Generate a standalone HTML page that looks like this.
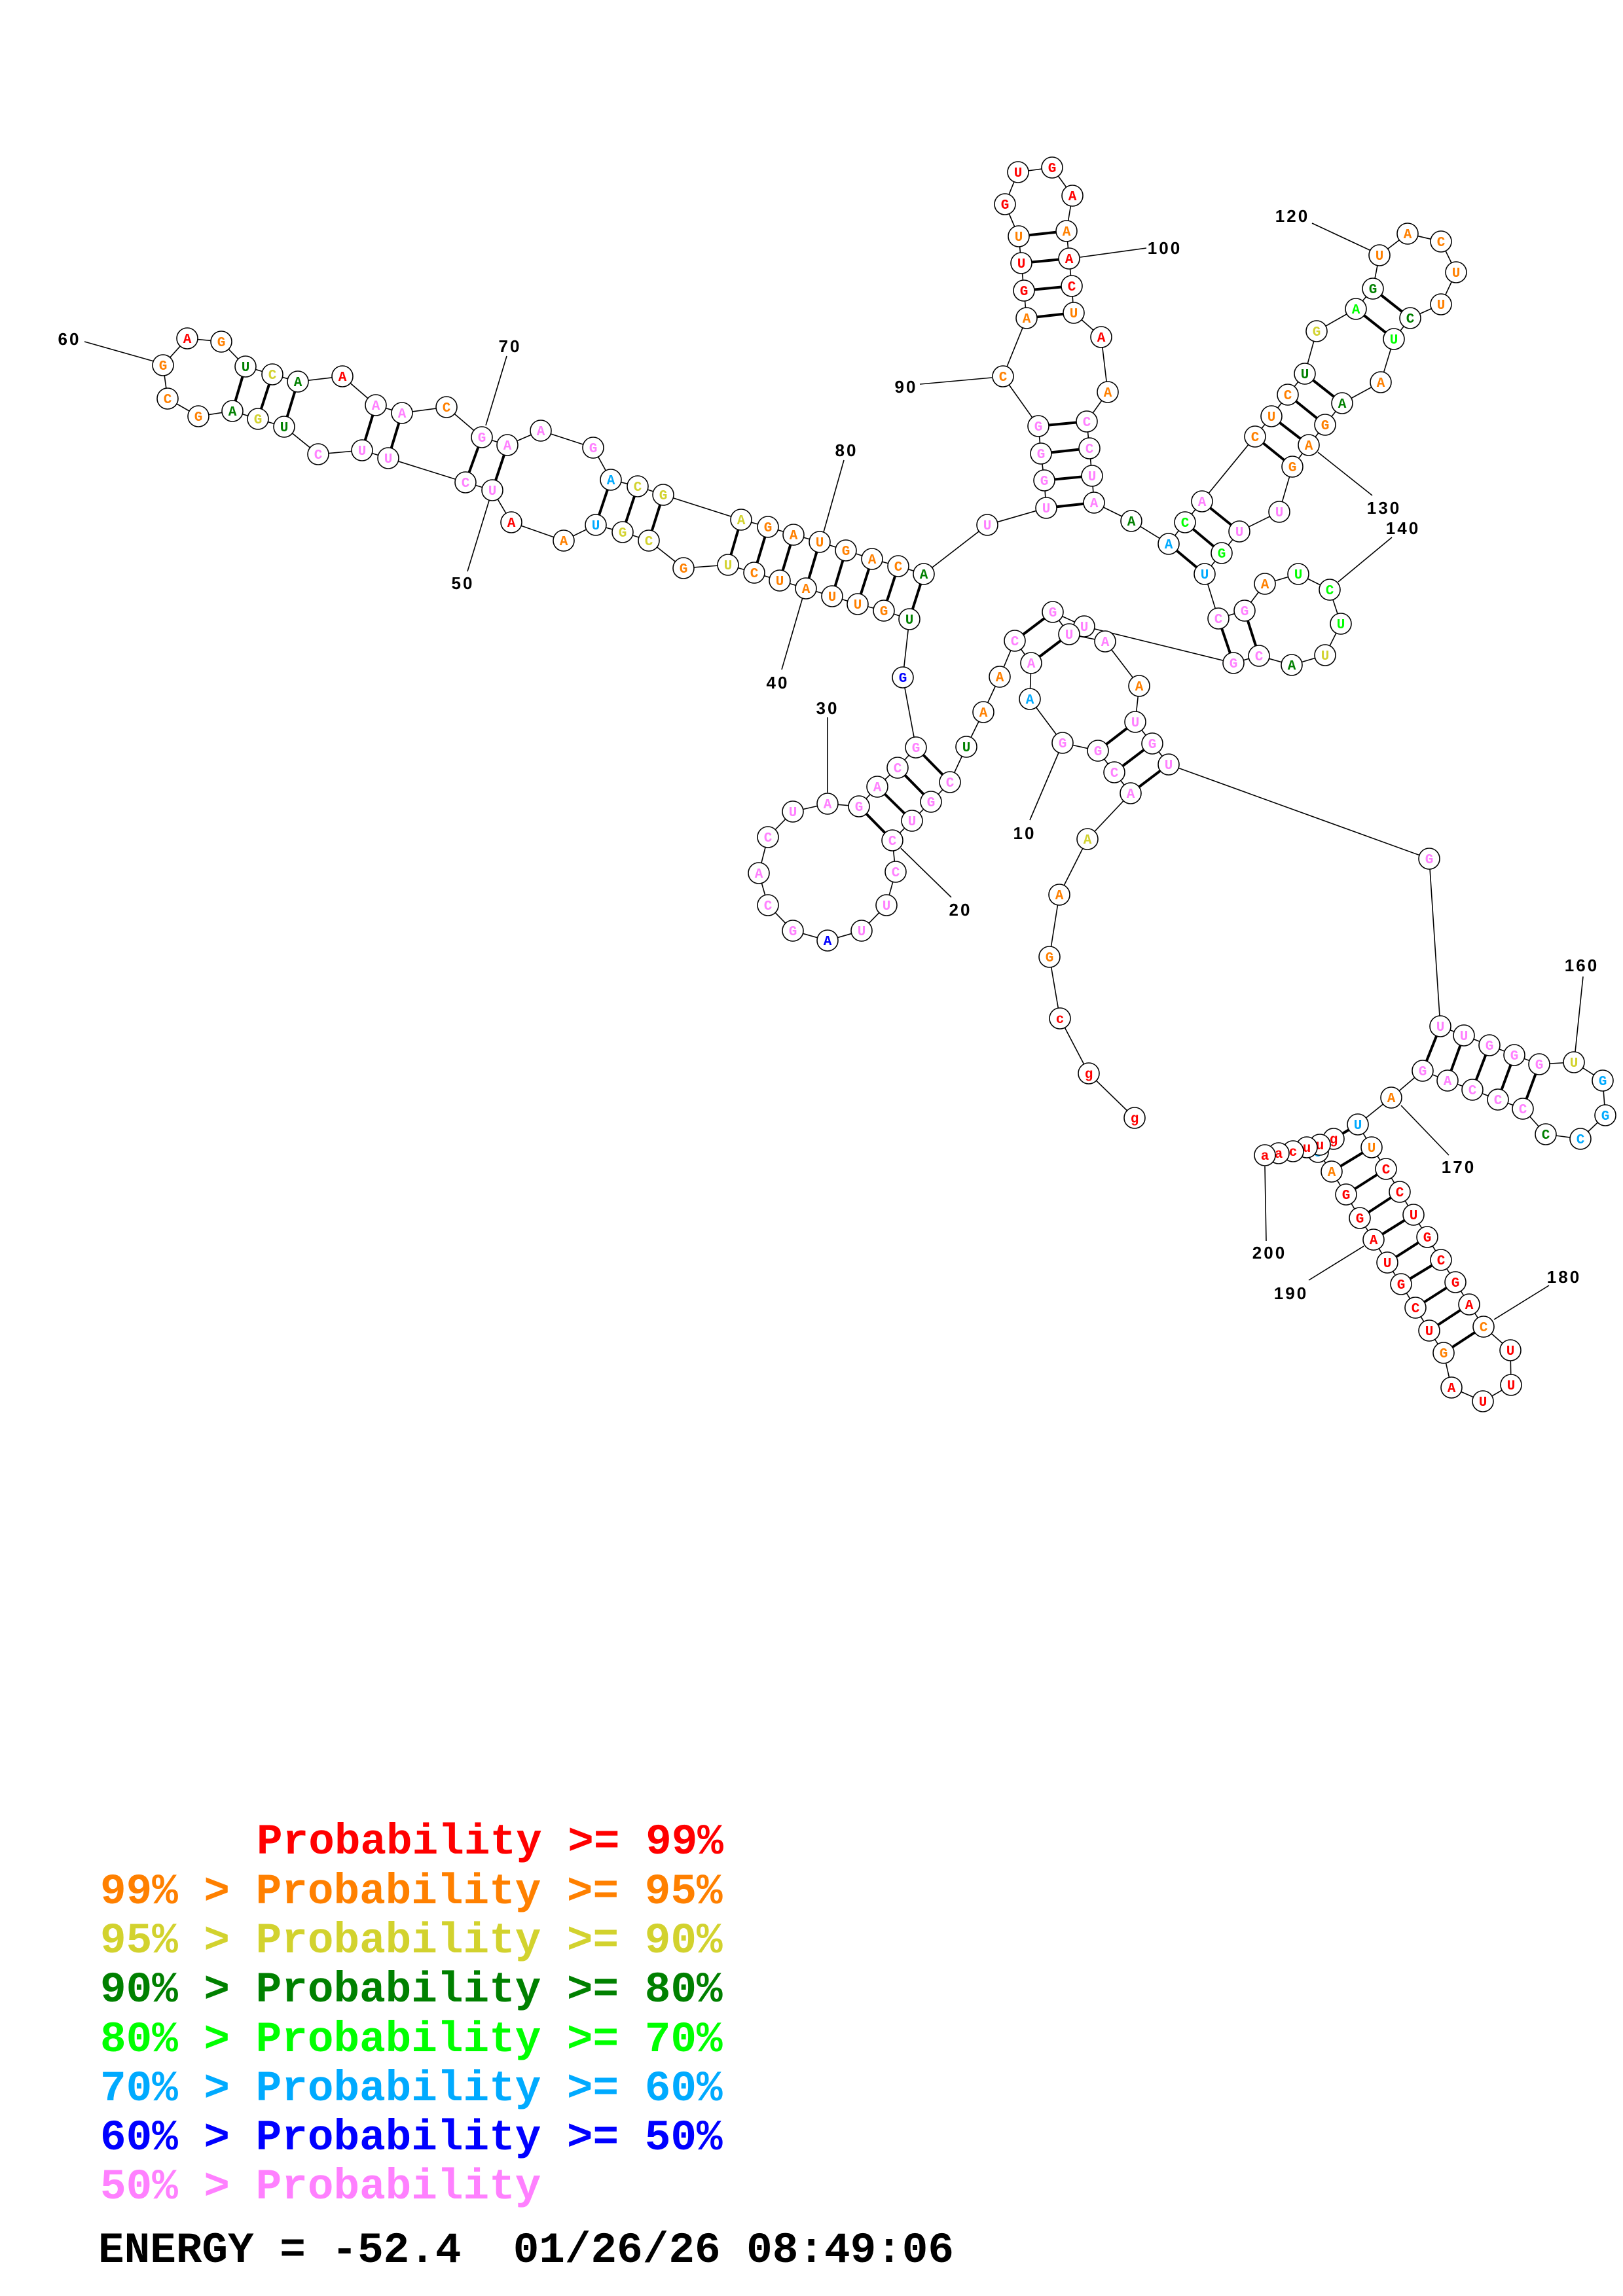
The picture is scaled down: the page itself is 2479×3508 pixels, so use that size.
<!DOCTYPE html>
<html><head><meta charset="utf-8"><style>
html,body{margin:0;padding:0;background:#fff}
svg{display:block}
.n{font:bold 21px "Liberation Mono",monospace;text-anchor:middle}
.lb{font:bold 26px "Liberation Sans",sans-serif;letter-spacing:3px;text-anchor:middle;fill:#000}
.lg{font:bold 66px "Liberation Mono",monospace;white-space:pre}
.r{fill:#ff0000}.o{fill:#ff8000}.y{fill:#d2d22e}.d{fill:#008000}.l{fill:#00ff00}.c{fill:#00aaff}.b{fill:#0000ff}.p{fill:#ff80ff}.k{fill:#000}
circle{fill:#fff;stroke:#000;stroke-width:1.6}
</style></head><body>
<svg width="2479" height="3508" viewBox="0 0 2479 3508" xmlns="http://www.w3.org/2000/svg">
<g stroke="#000" stroke-width="1.6" fill="none">
<polyline points="1733,1708 1663,1640 1619,1556 1603,1462 1618,1367 1661,1282 1727,1212 1702,1180 1677,1147 1623,1135 1573,1068 1575,1013 1550,979 1527,1034 1502,1088 1476,1141 1451,1195 1422,1225 1393,1254 1363,1284 1368,1332 1354,1383 1316,1422 1264,1437 1211,1422 1173,1383 1159,1334 1173,1279 1211,1240 1264,1228 1312,1232 1340,1202 1371,1173 1399,1142 1379,1035 1389,946 1350,933 1310,923 1271,911 1231,899 1191,887 1152,875 1112,863 1044,868 991,826 951,813 910,802 861,826 781,798 752,749 711,737 593,700 553,688 486,694 434,652 394,640 355,628 303,636 256,609 249,558 286,517 338,522 375,560 416,572 455,583 523,575 574,619 614,631 682,622 736,668 775,680 826,658 906,684 933,733 974,743 1013,756 1132,794 1173,805 1212,817 1252,828 1292,841 1332,854 1372,865 1411,877 1508,802 1598,776 1595,734 1590,693 1586,651 1532,575 1568,486 1564,444 1560,402 1556,361 1535,312 1555,263 1607,256 1638,299 1629,353 1633,395 1637,437 1640,478 1682,515 1692,599 1660,644 1664,685 1668,727 1671,768 1728,796 1785,831 1810,798 1836,766 1917,667 1942,636 1967,603 1993,571 2011,506 2071,472 2097,441 2107,390 2150,357 2201,369 2224,416 2201,465 2154,486 2129,518 2109,584 2050,616 2024,649 1999,680 1974,713 1954,782 1893,812 1866,845 1840,877 1861,945 1901,933 1932,892 1983,877 2031,901 2048,953 2024,1001 1973,1016 1923,1002 1884,1013 1656,957 1608,935 1633,969 1688,980 1740,1048 1734,1103 1760,1136 1785,1168 2183,1312 2200,1568 2236,1582 2275,1597 2313,1612 2351,1626 2404,1623 2448,1651 2452,1704 2414,1740 2361,1733 2326,1694 2288,1680 2249,1665 2211,1651 2173,1636 2125,1677 2074,1718 2095,1753 2117,1786 2138,1821 2159,1856 2180,1890 2201,1925 2223,1959 2244,1993 2266,2027 2307,2063 2308,2116 2265,2141 2217,2120 2205,2067 2183,2033 2162,1998 2140,1962 2119,1929 2098,1894 2077,1861 2056,1825 2034,1790 2013,1760 2037,1740 2016,1749 1996,1753 1975,1759 1953,1762 1932,1765"/>
<path d="M1573,1253L1617,1150 M1453,1371L1376,1296 M1264,1096L1264,1211 M1194,1023L1226,913 M714,873L747,765 M129,522L235,552 M774,544L742,650 M1289,703L1258,813 M1405,587L1515,577 M1751,379L1650,393 M2004,341L2094,383 M2096,757L2013,691 M2126,821L2044,889 M2418,1492L2406,1607 M2213,1765L2140,1689 M2366,1964L2282,2016 M1999,1956L2083,1904 M1934,1896L1932,1782"/>
</g>
<path stroke="#000" stroke-width="4" fill="none" d="M1677,1147L1734,1103 M1702,1180L1760,1136 M1727,1212L1785,1168 M1575,1013L1633,969 M1550,979L1608,935 M1451,1195L1399,1142 M1422,1225L1371,1173 M1393,1254L1340,1202 M1363,1284L1312,1232 M1389,946L1411,877 M1350,933L1372,865 M1310,923L1332,854 M1271,911L1292,841 M1231,899L1252,828 M1191,887L1212,817 M1152,875L1173,805 M1112,863L1132,794 M991,826L1013,756 M951,813L974,743 M910,802L933,733 M752,749L775,680 M711,737L736,668 M593,700L614,631 M553,688L574,619 M434,652L455,583 M394,640L416,572 M355,628L375,560 M1598,776L1671,768 M1595,734L1668,727 M1590,693L1664,685 M1586,651L1660,644 M1568,486L1640,478 M1564,444L1637,437 M1560,402L1633,395 M1556,361L1629,353 M1785,831L1840,877 M1810,798L1866,845 M1836,766L1893,812 M1917,667L1974,713 M1942,636L1999,680 M1967,603L2024,649 M1993,571L2050,616 M2071,472L2129,518 M2097,441L2154,486 M1861,945L1884,1013 M1901,933L1923,1002 M2200,1568L2173,1636 M2236,1582L2211,1651 M2275,1597L2249,1665 M2313,1612L2288,1680 M2351,1626L2326,1694 M2074,1718L2037,1740 M2095,1753L2034,1790 M2117,1786L2056,1825 M2138,1821L2077,1861 M2159,1856L2098,1894 M2180,1890L2119,1929 M2201,1925L2140,1962 M2223,1959L2162,1998 M2244,1993L2183,2033 M2266,2027L2205,2067"/>
<g>
<circle cx="1733" cy="1708" r="16"/><text class="n r" x="1733" y="1715">g</text>
<circle cx="1663" cy="1640" r="16"/><text class="n r" x="1663" y="1647">g</text>
<circle cx="1619" cy="1556" r="16"/><text class="n r" x="1619" y="1563">c</text>
<circle cx="1603" cy="1462" r="16"/><text class="n o" x="1603" y="1469">G</text>
<circle cx="1618" cy="1367" r="16"/><text class="n o" x="1618" y="1374">A</text>
<circle cx="1661" cy="1282" r="16"/><text class="n y" x="1661" y="1289">A</text>
<circle cx="1727" cy="1212" r="16"/><text class="n p" x="1727" y="1219">A</text>
<circle cx="1702" cy="1180" r="16"/><text class="n p" x="1702" y="1187">C</text>
<circle cx="1677" cy="1147" r="16"/><text class="n p" x="1677" y="1154">G</text>
<circle cx="1623" cy="1135" r="16"/><text class="n p" x="1623" y="1142">G</text>
<circle cx="1573" cy="1068" r="16"/><text class="n c" x="1573" y="1075">A</text>
<circle cx="1575" cy="1013" r="16"/><text class="n p" x="1575" y="1020">A</text>
<circle cx="1550" cy="979" r="16"/><text class="n p" x="1550" y="986">C</text>
<circle cx="1527" cy="1034" r="16"/><text class="n o" x="1527" y="1041">A</text>
<circle cx="1502" cy="1088" r="16"/><text class="n o" x="1502" y="1095">A</text>
<circle cx="1476" cy="1141" r="16"/><text class="n d" x="1476" y="1148">U</text>
<circle cx="1451" cy="1195" r="16"/><text class="n p" x="1451" y="1202">C</text>
<circle cx="1422" cy="1225" r="16"/><text class="n p" x="1422" y="1232">G</text>
<circle cx="1393" cy="1254" r="16"/><text class="n p" x="1393" y="1261">U</text>
<circle cx="1363" cy="1284" r="16"/><text class="n p" x="1363" y="1291">C</text>
<circle cx="1368" cy="1332" r="16"/><text class="n p" x="1368" y="1339">C</text>
<circle cx="1354" cy="1383" r="16"/><text class="n p" x="1354" y="1390">U</text>
<circle cx="1316" cy="1422" r="16"/><text class="n p" x="1316" y="1429">U</text>
<circle cx="1264" cy="1437" r="16"/><text class="n b" x="1264" y="1444">A</text>
<circle cx="1211" cy="1422" r="16"/><text class="n p" x="1211" y="1429">G</text>
<circle cx="1173" cy="1383" r="16"/><text class="n p" x="1173" y="1390">C</text>
<circle cx="1159" cy="1334" r="16"/><text class="n p" x="1159" y="1341">A</text>
<circle cx="1173" cy="1279" r="16"/><text class="n p" x="1173" y="1286">C</text>
<circle cx="1211" cy="1240" r="16"/><text class="n p" x="1211" y="1247">U</text>
<circle cx="1264" cy="1228" r="16"/><text class="n p" x="1264" y="1235">A</text>
<circle cx="1312" cy="1232" r="16"/><text class="n p" x="1312" y="1239">G</text>
<circle cx="1340" cy="1202" r="16"/><text class="n p" x="1340" y="1209">A</text>
<circle cx="1371" cy="1173" r="16"/><text class="n p" x="1371" y="1180">C</text>
<circle cx="1399" cy="1142" r="16"/><text class="n p" x="1399" y="1149">G</text>
<circle cx="1379" cy="1035" r="16"/><text class="n b" x="1379" y="1042">G</text>
<circle cx="1389" cy="946" r="16"/><text class="n d" x="1389" y="953">U</text>
<circle cx="1350" cy="933" r="16"/><text class="n o" x="1350" y="940">G</text>
<circle cx="1310" cy="923" r="16"/><text class="n o" x="1310" y="930">U</text>
<circle cx="1271" cy="911" r="16"/><text class="n o" x="1271" y="918">U</text>
<circle cx="1231" cy="899" r="16"/><text class="n o" x="1231" y="906">A</text>
<circle cx="1191" cy="887" r="16"/><text class="n o" x="1191" y="894">U</text>
<circle cx="1152" cy="875" r="16"/><text class="n o" x="1152" y="882">C</text>
<circle cx="1112" cy="863" r="16"/><text class="n y" x="1112" y="870">U</text>
<circle cx="1044" cy="868" r="16"/><text class="n o" x="1044" y="875">G</text>
<circle cx="991" cy="826" r="16"/><text class="n y" x="991" y="833">C</text>
<circle cx="951" cy="813" r="16"/><text class="n y" x="951" y="820">G</text>
<circle cx="910" cy="802" r="16"/><text class="n c" x="910" y="809">U</text>
<circle cx="861" cy="826" r="16"/><text class="n o" x="861" y="833">A</text>
<circle cx="781" cy="798" r="16"/><text class="n r" x="781" y="805">A</text>
<circle cx="752" cy="749" r="16"/><text class="n p" x="752" y="756">U</text>
<circle cx="711" cy="737" r="16"/><text class="n p" x="711" y="744">C</text>
<circle cx="593" cy="700" r="16"/><text class="n p" x="593" y="707">U</text>
<circle cx="553" cy="688" r="16"/><text class="n p" x="553" y="695">U</text>
<circle cx="486" cy="694" r="16"/><text class="n p" x="486" y="701">C</text>
<circle cx="434" cy="652" r="16"/><text class="n d" x="434" y="659">U</text>
<circle cx="394" cy="640" r="16"/><text class="n y" x="394" y="647">G</text>
<circle cx="355" cy="628" r="16"/><text class="n d" x="355" y="635">A</text>
<circle cx="303" cy="636" r="16"/><text class="n o" x="303" y="643">G</text>
<circle cx="256" cy="609" r="16"/><text class="n o" x="256" y="616">C</text>
<circle cx="249" cy="558" r="16"/><text class="n o" x="249" y="565">G</text>
<circle cx="286" cy="517" r="16"/><text class="n r" x="286" y="524">A</text>
<circle cx="338" cy="522" r="16"/><text class="n o" x="338" y="529">G</text>
<circle cx="375" cy="560" r="16"/><text class="n d" x="375" y="567">U</text>
<circle cx="416" cy="572" r="16"/><text class="n y" x="416" y="579">C</text>
<circle cx="455" cy="583" r="16"/><text class="n d" x="455" y="590">A</text>
<circle cx="523" cy="575" r="16"/><text class="n r" x="523" y="582">A</text>
<circle cx="574" cy="619" r="16"/><text class="n p" x="574" y="626">A</text>
<circle cx="614" cy="631" r="16"/><text class="n p" x="614" y="638">A</text>
<circle cx="682" cy="622" r="16"/><text class="n o" x="682" y="629">C</text>
<circle cx="736" cy="668" r="16"/><text class="n p" x="736" y="675">G</text>
<circle cx="775" cy="680" r="16"/><text class="n p" x="775" y="687">A</text>
<circle cx="826" cy="658" r="16"/><text class="n p" x="826" y="665">A</text>
<circle cx="906" cy="684" r="16"/><text class="n p" x="906" y="691">G</text>
<circle cx="933" cy="733" r="16"/><text class="n c" x="933" y="740">A</text>
<circle cx="974" cy="743" r="16"/><text class="n y" x="974" y="750">C</text>
<circle cx="1013" cy="756" r="16"/><text class="n y" x="1013" y="763">G</text>
<circle cx="1132" cy="794" r="16"/><text class="n y" x="1132" y="801">A</text>
<circle cx="1173" cy="805" r="16"/><text class="n o" x="1173" y="812">G</text>
<circle cx="1212" cy="817" r="16"/><text class="n o" x="1212" y="824">A</text>
<circle cx="1252" cy="828" r="16"/><text class="n o" x="1252" y="835">U</text>
<circle cx="1292" cy="841" r="16"/><text class="n o" x="1292" y="848">G</text>
<circle cx="1332" cy="854" r="16"/><text class="n o" x="1332" y="861">A</text>
<circle cx="1372" cy="865" r="16"/><text class="n o" x="1372" y="872">C</text>
<circle cx="1411" cy="877" r="16"/><text class="n d" x="1411" y="884">A</text>
<circle cx="1508" cy="802" r="16"/><text class="n p" x="1508" y="809">U</text>
<circle cx="1598" cy="776" r="16"/><text class="n p" x="1598" y="783">U</text>
<circle cx="1595" cy="734" r="16"/><text class="n p" x="1595" y="741">G</text>
<circle cx="1590" cy="693" r="16"/><text class="n p" x="1590" y="700">G</text>
<circle cx="1586" cy="651" r="16"/><text class="n p" x="1586" y="658">G</text>
<circle cx="1532" cy="575" r="16"/><text class="n o" x="1532" y="582">C</text>
<circle cx="1568" cy="486" r="16"/><text class="n o" x="1568" y="493">A</text>
<circle cx="1564" cy="444" r="16"/><text class="n r" x="1564" y="451">G</text>
<circle cx="1560" cy="402" r="16"/><text class="n r" x="1560" y="409">U</text>
<circle cx="1556" cy="361" r="16"/><text class="n o" x="1556" y="368">U</text>
<circle cx="1535" cy="312" r="16"/><text class="n r" x="1535" y="319">G</text>
<circle cx="1555" cy="263" r="16"/><text class="n r" x="1555" y="270">U</text>
<circle cx="1607" cy="256" r="16"/><text class="n r" x="1607" y="263">G</text>
<circle cx="1638" cy="299" r="16"/><text class="n r" x="1638" y="306">A</text>
<circle cx="1629" cy="353" r="16"/><text class="n o" x="1629" y="360">A</text>
<circle cx="1633" cy="395" r="16"/><text class="n r" x="1633" y="402">A</text>
<circle cx="1637" cy="437" r="16"/><text class="n r" x="1637" y="444">C</text>
<circle cx="1640" cy="478" r="16"/><text class="n o" x="1640" y="485">U</text>
<circle cx="1682" cy="515" r="16"/><text class="n r" x="1682" y="522">A</text>
<circle cx="1692" cy="599" r="16"/><text class="n o" x="1692" y="606">A</text>
<circle cx="1660" cy="644" r="16"/><text class="n p" x="1660" y="651">C</text>
<circle cx="1664" cy="685" r="16"/><text class="n p" x="1664" y="692">C</text>
<circle cx="1668" cy="727" r="16"/><text class="n p" x="1668" y="734">U</text>
<circle cx="1671" cy="768" r="16"/><text class="n p" x="1671" y="775">A</text>
<circle cx="1728" cy="796" r="16"/><text class="n d" x="1728" y="803">A</text>
<circle cx="1785" cy="831" r="16"/><text class="n c" x="1785" y="838">A</text>
<circle cx="1810" cy="798" r="16"/><text class="n l" x="1810" y="805">C</text>
<circle cx="1836" cy="766" r="16"/><text class="n p" x="1836" y="773">A</text>
<circle cx="1917" cy="667" r="16"/><text class="n o" x="1917" y="674">C</text>
<circle cx="1942" cy="636" r="16"/><text class="n o" x="1942" y="643">U</text>
<circle cx="1967" cy="603" r="16"/><text class="n o" x="1967" y="610">C</text>
<circle cx="1993" cy="571" r="16"/><text class="n d" x="1993" y="578">U</text>
<circle cx="2011" cy="506" r="16"/><text class="n y" x="2011" y="513">G</text>
<circle cx="2071" cy="472" r="16"/><text class="n l" x="2071" y="479">A</text>
<circle cx="2097" cy="441" r="16"/><text class="n d" x="2097" y="448">G</text>
<circle cx="2107" cy="390" r="16"/><text class="n o" x="2107" y="397">U</text>
<circle cx="2150" cy="357" r="16"/><text class="n o" x="2150" y="364">A</text>
<circle cx="2201" cy="369" r="16"/><text class="n o" x="2201" y="376">C</text>
<circle cx="2224" cy="416" r="16"/><text class="n o" x="2224" y="423">U</text>
<circle cx="2201" cy="465" r="16"/><text class="n o" x="2201" y="472">U</text>
<circle cx="2154" cy="486" r="16"/><text class="n d" x="2154" y="493">C</text>
<circle cx="2129" cy="518" r="16"/><text class="n l" x="2129" y="525">U</text>
<circle cx="2109" cy="584" r="16"/><text class="n o" x="2109" y="591">A</text>
<circle cx="2050" cy="616" r="16"/><text class="n d" x="2050" y="623">A</text>
<circle cx="2024" cy="649" r="16"/><text class="n o" x="2024" y="656">G</text>
<circle cx="1999" cy="680" r="16"/><text class="n o" x="1999" y="687">A</text>
<circle cx="1974" cy="713" r="16"/><text class="n o" x="1974" y="720">G</text>
<circle cx="1954" cy="782" r="16"/><text class="n p" x="1954" y="789">U</text>
<circle cx="1893" cy="812" r="16"/><text class="n p" x="1893" y="819">U</text>
<circle cx="1866" cy="845" r="16"/><text class="n l" x="1866" y="852">G</text>
<circle cx="1840" cy="877" r="16"/><text class="n c" x="1840" y="884">U</text>
<circle cx="1861" cy="945" r="16"/><text class="n p" x="1861" y="952">C</text>
<circle cx="1901" cy="933" r="16"/><text class="n p" x="1901" y="940">G</text>
<circle cx="1932" cy="892" r="16"/><text class="n o" x="1932" y="899">A</text>
<circle cx="1983" cy="877" r="16"/><text class="n l" x="1983" y="884">U</text>
<circle cx="2031" cy="901" r="16"/><text class="n l" x="2031" y="908">C</text>
<circle cx="2048" cy="953" r="16"/><text class="n l" x="2048" y="960">U</text>
<circle cx="2024" cy="1001" r="16"/><text class="n y" x="2024" y="1008">U</text>
<circle cx="1973" cy="1016" r="16"/><text class="n d" x="1973" y="1023">A</text>
<circle cx="1923" cy="1002" r="16"/><text class="n p" x="1923" y="1009">C</text>
<circle cx="1884" cy="1013" r="16"/><text class="n p" x="1884" y="1020">G</text>
<circle cx="1656" cy="957" r="16"/><text class="n p" x="1656" y="964">U</text>
<circle cx="1608" cy="935" r="16"/><text class="n p" x="1608" y="942">G</text>
<circle cx="1633" cy="969" r="16"/><text class="n p" x="1633" y="976">U</text>
<circle cx="1688" cy="980" r="16"/><text class="n p" x="1688" y="987">A</text>
<circle cx="1740" cy="1048" r="16"/><text class="n o" x="1740" y="1055">A</text>
<circle cx="1734" cy="1103" r="16"/><text class="n p" x="1734" y="1110">U</text>
<circle cx="1760" cy="1136" r="16"/><text class="n p" x="1760" y="1143">G</text>
<circle cx="1785" cy="1168" r="16"/><text class="n p" x="1785" y="1175">U</text>
<circle cx="2183" cy="1312" r="16"/><text class="n p" x="2183" y="1319">G</text>
<circle cx="2200" cy="1568" r="16"/><text class="n p" x="2200" y="1575">U</text>
<circle cx="2236" cy="1582" r="16"/><text class="n p" x="2236" y="1589">U</text>
<circle cx="2275" cy="1597" r="16"/><text class="n p" x="2275" y="1604">G</text>
<circle cx="2313" cy="1612" r="16"/><text class="n p" x="2313" y="1619">G</text>
<circle cx="2351" cy="1626" r="16"/><text class="n p" x="2351" y="1633">G</text>
<circle cx="2404" cy="1623" r="16"/><text class="n y" x="2404" y="1630">U</text>
<circle cx="2448" cy="1651" r="16"/><text class="n c" x="2448" y="1658">G</text>
<circle cx="2452" cy="1704" r="16"/><text class="n c" x="2452" y="1711">G</text>
<circle cx="2414" cy="1740" r="16"/><text class="n c" x="2414" y="1747">C</text>
<circle cx="2361" cy="1733" r="16"/><text class="n d" x="2361" y="1740">C</text>
<circle cx="2326" cy="1694" r="16"/><text class="n p" x="2326" y="1701">C</text>
<circle cx="2288" cy="1680" r="16"/><text class="n p" x="2288" y="1687">C</text>
<circle cx="2249" cy="1665" r="16"/><text class="n p" x="2249" y="1672">C</text>
<circle cx="2211" cy="1651" r="16"/><text class="n p" x="2211" y="1658">A</text>
<circle cx="2173" cy="1636" r="16"/><text class="n p" x="2173" y="1643">G</text>
<circle cx="2125" cy="1677" r="16"/><text class="n o" x="2125" y="1684">A</text>
<circle cx="2074" cy="1718" r="16"/><text class="n c" x="2074" y="1725">U</text>
<circle cx="2095" cy="1753" r="16"/><text class="n o" x="2095" y="1760">U</text>
<circle cx="2117" cy="1786" r="16"/><text class="n r" x="2117" y="1793">C</text>
<circle cx="2138" cy="1821" r="16"/><text class="n r" x="2138" y="1828">C</text>
<circle cx="2159" cy="1856" r="16"/><text class="n r" x="2159" y="1863">U</text>
<circle cx="2180" cy="1890" r="16"/><text class="n r" x="2180" y="1897">G</text>
<circle cx="2201" cy="1925" r="16"/><text class="n r" x="2201" y="1932">C</text>
<circle cx="2223" cy="1959" r="16"/><text class="n r" x="2223" y="1966">G</text>
<circle cx="2244" cy="1993" r="16"/><text class="n r" x="2244" y="2000">A</text>
<circle cx="2266" cy="2027" r="16"/><text class="n o" x="2266" y="2034">C</text>
<circle cx="2307" cy="2063" r="16"/><text class="n r" x="2307" y="2070">U</text>
<circle cx="2308" cy="2116" r="16"/><text class="n r" x="2308" y="2123">U</text>
<circle cx="2265" cy="2141" r="16"/><text class="n r" x="2265" y="2148">U</text>
<circle cx="2217" cy="2120" r="16"/><text class="n r" x="2217" y="2127">A</text>
<circle cx="2205" cy="2067" r="16"/><text class="n o" x="2205" y="2074">G</text>
<circle cx="2183" cy="2033" r="16"/><text class="n r" x="2183" y="2040">U</text>
<circle cx="2162" cy="1998" r="16"/><text class="n r" x="2162" y="2005">C</text>
<circle cx="2140" cy="1962" r="16"/><text class="n r" x="2140" y="1969">G</text>
<circle cx="2119" cy="1929" r="16"/><text class="n r" x="2119" y="1936">U</text>
<circle cx="2098" cy="1894" r="16"/><text class="n r" x="2098" y="1901">A</text>
<circle cx="2077" cy="1861" r="16"/><text class="n r" x="2077" y="1868">G</text>
<circle cx="2056" cy="1825" r="16"/><text class="n r" x="2056" y="1832">G</text>
<circle cx="2034" cy="1790" r="16"/><text class="n o" x="2034" y="1797">A</text>
<circle cx="2013" cy="1760" r="16"/><text class="n c" x="2013" y="1767">U</text>
<circle cx="2037" cy="1740" r="16"/><text class="n r" x="2037" y="1747">g</text>
<circle cx="2016" cy="1749" r="16"/><text class="n r" x="2016" y="1756">u</text>
<circle cx="1996" cy="1753" r="16"/><text class="n r" x="1996" y="1760">u</text>
<circle cx="1975" cy="1759" r="16"/><text class="n r" x="1975" y="1766">c</text>
<circle cx="1953" cy="1762" r="16"/><text class="n r" x="1953" y="1769">a</text>
<circle cx="1932" cy="1765" r="16"/><text class="n r" x="1932" y="1772">a</text>
</g>
<g>
<text class="lb" x="1565" y="1282">10</text>
<text class="lb" x="1467" y="1399">20</text>
<text class="lb" x="1264" y="1091">30</text>
<text class="lb" x="1188" y="1052">40</text>
<text class="lb" x="707" y="900">50</text>
<text class="lb" x="106" y="527">60</text>
<text class="lb" x="779" y="538">70</text>
<text class="lb" x="1293" y="697">80</text>
<text class="lb" x="1384" y="600">90</text>
<text class="lb" x="1779" y="388">100</text>
<text class="lb" x="1974" y="339">120</text>
<text class="lb" x="2114" y="785">130</text>
<text class="lb" x="2143" y="816">140</text>
<text class="lb" x="2416" y="1484">160</text>
<text class="lb" x="2228" y="1792">170</text>
<text class="lb" x="2389" y="1960">180</text>
<text class="lb" x="1972" y="1985">190</text>
<text class="lb" x="1939" y="1923">200</text>
</g>
<g class="lg">
<text class="r" x="392" y="2832">Probability &gt;= 99%</text>
<text class="o" x="153" y="2908">99% &gt; Probability &gt;= 95%</text>
<text class="y" x="153" y="2983">95% &gt; Probability &gt;= 90%</text>
<text class="d" x="153" y="3058">90% &gt; Probability &gt;= 80%</text>
<text class="l" x="153" y="3134">80% &gt; Probability &gt;= 70%</text>
<text class="c" x="153" y="3209">70% &gt; Probability &gt;= 60%</text>
<text class="b" x="153" y="3284">60% &gt; Probability &gt;= 50%</text>
<text class="p" x="153" y="3359">50% &gt; Probability</text>
<text class="k" x="150" y="3456">ENERGY = -52.4 &#160;01/26/26 08:49:06</text>
</g>
</svg>
</body></html>
